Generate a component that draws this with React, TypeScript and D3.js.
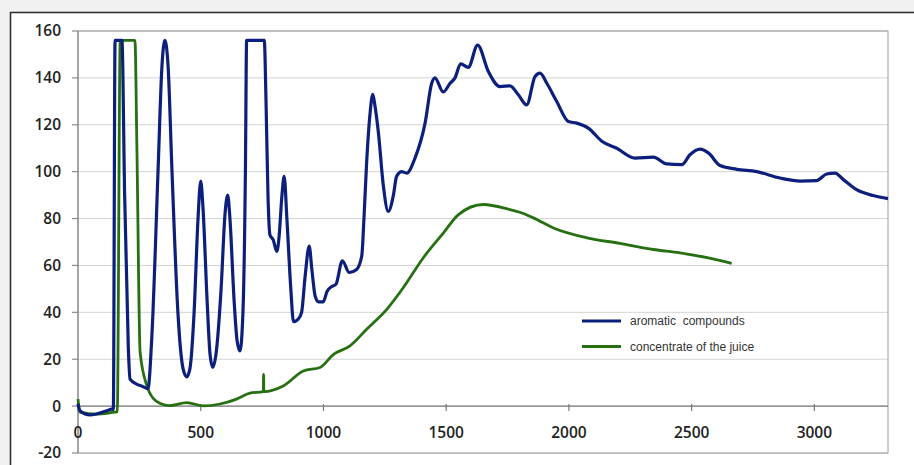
import React from "react";
import * as d3 from "d3";

// Measured signal, [time, response] pairs
const aromaticCompounds: [number, number][] = [
  [0, 1], [8, -2], [49, -3.8], [117, -2], [137, -1.3], [144, -1.5],
  [151, 156], [174, 156], [179, 156], [190, 90], [205, 25], [212, 11.5],
  [239, 9.4], [261, 8.5], [285, 7.5], [301, 30], [326, 100], [342, 145],
  [354, 156], [367, 145], [383, 100], [407, 40], [428, 16], [443, 12.5],
  [456, 16], [473, 40], [489, 80], [500, 96], [509, 85], [526, 45],
  [538, 22], [549, 16.5], [562, 22], [583, 50], [599, 82], [610, 90],
  [619, 80], [636, 45], [648, 28], [660, 23.5], [672, 40], [682, 100],
  [687, 156], [759, 156], [766, 130], [774, 90], [782, 73], [795, 71],
  [810, 66], [819, 72], [831, 90], [840, 98], [851, 80], [867, 50],
  [878, 36], [896, 37], [911, 40], [925, 55], [942, 68.2], [953, 58],
  [966, 47], [979, 44.5], [999, 44.5], [1015, 49], [1034, 51], [1051, 52],
  [1077, 62], [1105, 57], [1135, 58.3], [1156, 64], [1165, 80], [1176, 104],
  [1190, 125], [1201, 133], [1210, 128], [1224, 116.5], [1244, 94],
  [1264, 83], [1285, 90], [1298, 98], [1319, 100], [1339, 99.4],
  [1373, 105.8], [1414, 120.7], [1441, 137.7], [1454, 140], [1488, 134],
  [1516, 137.7], [1536, 140], [1559, 146], [1590, 144.5], [1628, 154],
  [1672, 142.7], [1719, 136.3], [1760, 136.6], [1794, 132.8], [1828, 128.5],
  [1862, 140.6], [1882, 142], [1910, 137.7], [1950, 130], [1998, 121.4],
  [2032, 120.7], [2079, 118.6], [2134, 113], [2195, 110], [2269, 105.8],
  [2344, 106.2], [2398, 103.3], [2460, 103], [2493, 107.2], [2534, 109.6],
  [2568, 108], [2616, 102.6], [2684, 101], [2765, 100], [2860, 97.3],
  [2942, 96], [3009, 96.2], [3050, 99], [3084, 99.4], [3118, 96.6],
  [3172, 92.3], [3240, 89.8], [3300, 88.5],
];

const juiceConcentrate: [number, number][] = [
  [0, 3], [8, -2.6], [76, -3.4], [150, -2.6], [160, -2.5], [172, 156],
  [232, 156], [240, 110], [253, 23], [281, 8.6], [320, 2], [374, 0.2],
  [443, 1.5], [511, 0.1], [578, 0.9], [646, 3], [700, 5.5], [755, 6.2],
  [756, 13.5], [757, 6.2], [836, 8.6], [918, 15], [986, 16.5], [1040, 22],
  [1108, 25.7], [1176, 32.8], [1258, 41.3], [1325, 50.5], [1407, 63.3],
  [1489, 73.9], [1550, 81.7], [1651, 86], [1760, 83.8], [1800, 82.7],
  [1855, 80.3], [1937, 76], [2073, 71.8], [2208, 69.4], [2344, 66.8],
  [2452, 65.4], [2563, 63.3], [2663, 60.9],
];

const xTicks = [0, 500, 1000, 1500, 2000, 2500, 3000];
const yTicks = [-20, 0, 20, 40, 60, 80, 100, 120, 140, 160];

const seriesNames = ["aromatic  compounds", "concentrate of the juice"];
const seriesColors = ["#0d1f7c", "#267012"];

const W = 914;
const H = 465;
const plot = { left: 78, right: 888, top: 31, bottom: 453 };

export default function App() {
  const x = d3.scaleLinear().domain([0, 3300]).range([plot.left, plot.right]);
  const y = d3.scaleLinear().domain([-20, 160]).range([plot.bottom, plot.top]);

  const line = d3
    .line<[number, number]>()
    .x((d) => x(d[0]))
    .y((d) => y(d[1]))
    .curve(d3.curveMonotoneX);

  const tickFont = {
    fontFamily: "'Open Sans', 'Liberation Sans', sans-serif",
    fontSize: 15.5,
    fontWeight: 600,
    fill: "#222",
  } as const;

  return (
    <svg
      width={W}
      height={H}
      style={{ position: "absolute", left: 0, top: 0, display: "block" }}
    >
      <rect x={0} y={0} width={W} height={H} fill="#f1f1f1" />
      <rect x={10} y={12} width={W} height={H} fill="#ffffff" />
      <path d={`M10.5,${H} V12.5 H${W}`} fill="none" stroke="#2a2a2a" strokeWidth={1.5} />

      {/* horizontal gridlines */}
      {yTicks.map((t) => (
        <line
          key={`g${t}`}
          x1={plot.left}
          x2={plot.right}
          y1={y(t)}
          y2={y(t)}
          stroke="#d4d4d4"
          strokeWidth={1}
        />
      ))}

      {/* plot frame */}
      <rect
        x={plot.left}
        y={plot.top}
        width={plot.right - plot.left}
        height={plot.bottom - plot.top}
        fill="none"
        stroke="#9a9a9a"
        strokeWidth={1}
      />

      {/* y axis */}
      <line x1={plot.left} x2={plot.left} y1={plot.top} y2={plot.bottom} stroke="#8a8a8a" strokeWidth={1.2} />
      {yTicks.map((t) => (
        <g key={`yt${t}`}>
          <line x1={plot.left - 6} x2={plot.left} y1={y(t)} y2={y(t)} stroke="#8a8a8a" strokeWidth={1.2} />
          <text x={61} y={y(t)} dy="0.35em" textAnchor="end" {...tickFont}>
            {t}
          </text>
        </g>
      ))}

      {/* x axis at zero */}
      <line x1={plot.left} x2={plot.right} y1={y(0)} y2={y(0)} stroke="#7a7a7a" strokeWidth={1.2} />
      {xTicks.map((t) => (
        <g key={`xt${t}`}>
          <line x1={x(t)} x2={x(t)} y1={y(0) - 2} y2={y(0) + 5} stroke="#7a7a7a" strokeWidth={1.2} />
          <text x={x(t)} y={433} dy="0.35em" textAnchor="middle" {...tickFont}>
            {t}
          </text>
        </g>
      ))}

      {/* series */}
      <path d={line(juiceConcentrate) ?? ""} fill="none" stroke={seriesColors[1]} strokeWidth={2.8} strokeLinejoin="round" />
      <path d={line(aromaticCompounds) ?? ""} fill="none" stroke={seriesColors[0]} strokeWidth={3.2} strokeLinejoin="round" />

      {/* legend */}
      {seriesNames.map((name, i) => (
        <g key={name} transform={`translate(582, ${321 + i * 25.5})`}>
          <line x1={0} x2={39} y1={0} y2={0} stroke={seriesColors[i]} strokeWidth={3} />
          <text
            x={48}
            y={0}
            dy="0.35em"
            fontFamily="'Liberation Sans', Arial, sans-serif"
            fontSize={12}
            fill="#333"
            style={{ whiteSpace: "pre" }}
          >
            {name}
          </text>
        </g>
      ))}
    </svg>
  );
}
